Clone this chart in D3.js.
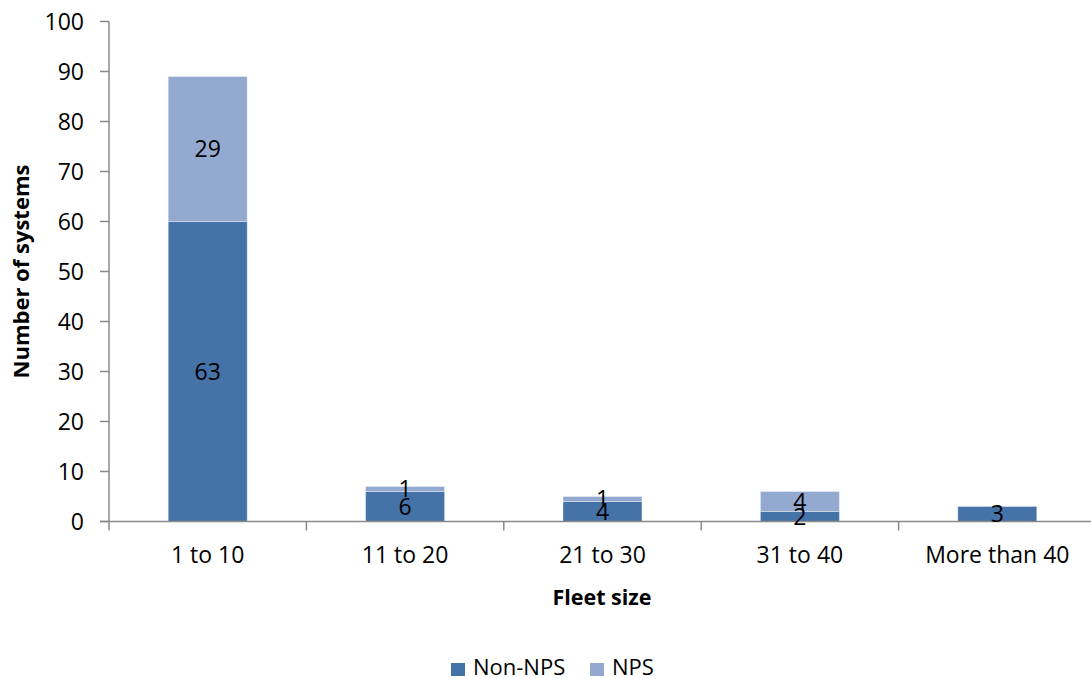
<!DOCTYPE html>
<html>
<head>
<meta charset="utf-8">
<script src="https://cdn.jsdelivr.net/npm/d3@7"></script>
<style>
  html, body { margin: 0; padding: 0; background: #fff; }
  svg { display: block; font-family: "Open Sans", sans-serif; }
</style>
</head>
<body>
<svg id="chart" width="1091" height="679"></svg>
<script>
// ---- data ----
const categories = ["1 to 10", "11 to 20", "21 to 30", "31 to 40", "More than 40"];
const nonNpsValues = [60, 6, 4, 2, 3];
const npsValues = [29, 1, 1, 4, 0];
const nonNpsLabels = ["63", "6", "4", "2", "3"];
const npsLabels = ["29", "1", "1", "4", ""];
const seriesNames = ["Non-NPS", "NPS"];
const yTicks = [0, 10, 20, 30, 40, 50, 60, 70, 80, 90, 100];

// ---- layout ----
const svg = d3.select("#chart");
const m = { left: 109, top: 21.5, bottom: 521.5 };
const plotRight = 109 + 197.4 * 5;
const colors = ["#4572A7", "#93A9CF"];
const axisColor = "#898989";

const x = d3.scaleBand().domain(categories).range([m.left, plotRight]).paddingInner(0.6).paddingOuter(0.3);
const xOuter = d3.scaleBand().domain(categories).range([m.left, plotRight]);
const y = d3.scaleLinear().domain([0, 100]).range([m.bottom, m.top]);

const rows = categories.map((c, i) => ({ cat: c, nonNps: nonNpsValues[i], nps: npsValues[i] }));
const stack = d3.stack().keys(["nonNps", "nps"])(rows);
const labelSets = [nonNpsLabels, npsLabels];

// bars
stack.forEach((layer, li) => {
  svg.append("g").selectAll("rect").data(layer).join("rect")
    .attr("x", d => x(d.data.cat))
    .attr("width", x.bandwidth())
    .attr("y", d => y(d[1]))
    .attr("height", d => y(d[0]) - y(d[1]))
    .attr("fill", colors[li])
    .attr("stroke", "rgba(255,255,255,0.35)")
    .attr("stroke-width", 1);
});

// y axis
const yAxis = svg.append("g");
yAxis.append("line").attr("x1", m.left).attr("x2", m.left).attr("y1", y(100)).attr("y2", y(0))
  .attr("stroke", axisColor).attr("stroke-width", 1.5);
yTicks.forEach(t => {
  yAxis.append("line").attr("x1", m.left - 9).attr("x2", m.left).attr("y1", y(t)).attr("y2", y(t))
    .attr("stroke", axisColor).attr("stroke-width", 1.5);
  yAxis.append("text").attr("x", 84).attr("y", y(t)).attr("dy", "0.36em")
    .attr("text-anchor", "end").attr("font-size", 23).attr("fill", "#000").text(t);
});

// x axis
const xAxis = svg.append("g");
xAxis.append("line").attr("x1", m.left - 9).attr("x2", 1091).attr("y1", y(0)).attr("y2", y(0))
  .attr("stroke", axisColor).attr("stroke-width", 1.5);
categories.forEach((c, i) => {
  const xt = xOuter(c);
  xAxis.append("line").attr("x1", xt).attr("x2", xt).attr("y1", y(0)).attr("y2", y(0) + 9)
    .attr("stroke", axisColor).attr("stroke-width", 1.5);
  xAxis.append("text").attr("x", xOuter(c) + xOuter.bandwidth() / 2).attr("y", 563)
    .attr("text-anchor", "middle").attr("font-size", 23).attr("fill", "#000").text(c);
});

// data labels
stack.forEach((layer, li) => {
  svg.append("g").selectAll("text").data(layer).join("text")
    .attr("x", d => x(d.data.cat) + x.bandwidth() / 2)
    .attr("y", d => y((d[0] + d[1]) / 2))
    .attr("dy", "0.36em")
    .attr("text-anchor", "middle").attr("font-size", 23).attr("fill", "#000")
    .text((d, i) => labelSets[li][i]);
});

// axis titles
svg.append("text").attr("transform", `translate(29,${(m.top + m.bottom) / 2}) rotate(-90)`)
  .attr("text-anchor", "middle").attr("font-size", 22).attr("font-weight", "bold").text("Number of systems");
svg.append("text").attr("x", 602).attr("y", 605).attr("text-anchor", "middle")
  .attr("font-size", 21.5).attr("font-weight", "bold").text("Fleet size");

// legend
const legend = svg.append("g");
const legendItems = [{ x: 451, tx: 473 }, { x: 590, tx: 612 }];
seriesNames.forEach((s, i) => {
  legend.append("rect").attr("x", legendItems[i].x).attr("y", 663).attr("width", 14).attr("height", 13).attr("fill", colors[i]);
  legend.append("text").attr("x", legendItems[i].tx).attr("y", 675).attr("font-size", 22).attr("fill", "#000").text(s);
});
</script>
</body>
</html>
